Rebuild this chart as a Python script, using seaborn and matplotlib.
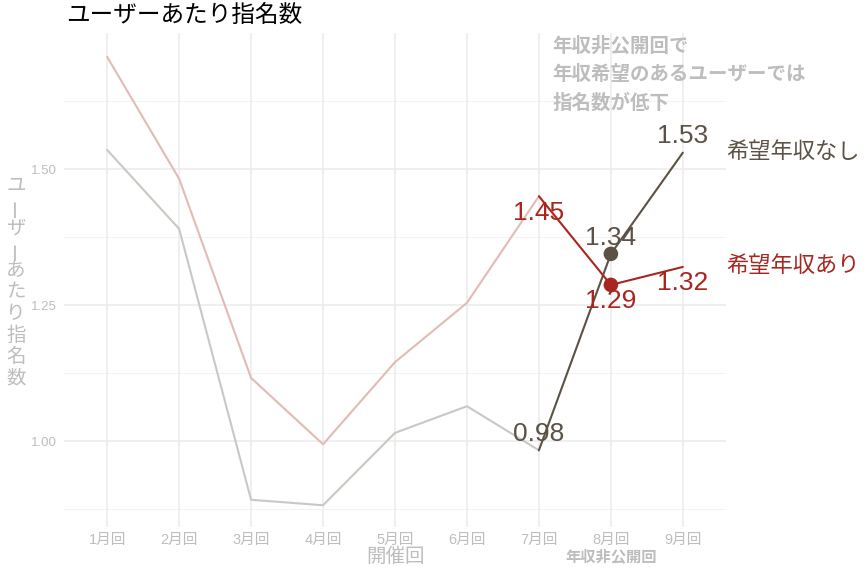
import pandas as pd
import seaborn as sns
import matplotlib.pyplot as plt
import matplotlib.transforms as mtransforms
from matplotlib.ticker import FixedLocator, FormatStrFormatter

# data
rounds = ["1月回", "2月回", "3月回", "4月回", "5月回", "6月回", "7月回", "8月回", "9月回"]
no_wish = [1.535, 1.39, 0.892, 0.882, 1.015, 1.064, 0.983, 1.344, 1.53]
wish = [1.706, 1.482, 1.116, 0.994, 1.145, 1.254, 1.45, 1.287, 1.32]
series_names = ["希望年収なし", "希望年収あり"]
y_major = [1.00, 1.25, 1.50]
y_minor = [0.875, 1.125, 1.375, 1.625]

dark = {"希望年収なし": "#5B5245", "希望年収あり": "#A8261F"}
light = {"希望年収なし": "#CBC7C3", "希望年収あり": "#E2BAB6"}

df = pd.DataFrame({
    "x": list(range(len(rounds))) * 2,
    "value": no_wish + wish,
    "group": [series_names[0]] * len(rounds) + [series_names[1]] * len(rounds),
})

sns.set_theme(style="white")
plt.rcParams["font.family"] = ["Liberation Sans", "Noto Sans CJK JP"]

fig = plt.figure(figsize=(8.64, 5.76), dpi=100)
ax = fig.add_axes([64 / 864, 1 - 527 / 576, (726 - 64) / 864, (527 - 33) / 576])

early = df[df["x"] <= 6]
late = df[df["x"] >= 6]

sns.lineplot(data=early, x="x", y="value", hue="group", palette=light,
             linewidth=1.5, legend=False, ax=ax)
sns.lineplot(data=late, x="x", y="value", hue="group", palette=dark,
             linewidth=1.5, legend=False, ax=ax)
sns.scatterplot(data=df[df["x"] == 7], x="x", y="value", hue="group",
                palette=dark, s=110, edgecolor="none", legend=False,
                ax=ax, zorder=5)

# value labels
for i in [6, 7, 8]:
    ax.text(i, no_wish[i] + 0.03, f"{no_wish[i]:.2f}", color=dark["希望年収なし"],
            fontsize=19, ha="center", va="center", zorder=6)
    ax.text(i, wish[i] - 0.03, f"{wish[i]:.2f}", color=dark["希望年収あり"],
            fontsize=19, ha="center", va="center", zorder=6)

# series labels
ax.text(8.6, no_wish[8], "希望年収なし", color=dark["希望年収なし"], fontsize=16,
        ha="left", va="center")
ax.text(8.6, wish[8], "希望年収あり", color=dark["希望年収あり"], fontsize=16,
        ha="left", va="center")

ax.text(6.19, 1.743, "年収非公開回で\n年収希望のあるユーザーでは\n指名数が低下",
        color="#BDBDBD", fontsize=14, fontweight="bold", ha="left", va="top",
        linespacing=1.6)

trans = mtransforms.blended_transform_factory(ax.transData, ax.transAxes)
ax.text(7, -0.06, "年収非公開回", transform=trans, color="#BDBDBD",
        fontsize=11, fontweight="bold", ha="center", va="center")

ax.set_xlim(-0.6, 8.6)
ax.set_ylim(0.842, 1.75)
ax.set_xticks(range(len(rounds)))
ax.set_xticklabels(rounds)
ax.yaxis.set_major_locator(FixedLocator(y_major))
ax.yaxis.set_minor_locator(FixedLocator(y_minor))
ax.yaxis.set_major_formatter(FormatStrFormatter("%.2f"))

ax.grid(True, which="major", color="#EBEBEB", linewidth=1.1)
ax.grid(True, which="minor", axis="y", color="#F2F2F2", linewidth=0.7)
ax.set_axisbelow(True)
for s in ax.spines.values():
    s.set_visible(False)

ax.tick_params(axis="both", which="major", length=3, color="#C8C8C8",
               labelcolor="#BDBDBD")
ax.tick_params(axis="x", labelsize=10.5, pad=1)
ax.tick_params(axis="y", labelsize=9.5, pad=2)
ax.tick_params(which="minor", length=0)

ax.set_xlabel("開催回", color="#BDBDBD", fontsize=14, labelpad=1)
ax.set_ylabel("")

# vertical y axis title, one character per line
ylab = "ユーザーあたり指名数"
top_px, step_px = 186, 21.4
for k, ch in enumerate(ylab):
    fig.text(16 / 864, 1 - (top_px + k * step_px) / 576, ch, color="#BDBDBD",
             fontsize=14, ha="center", va="center",
             rotation=90 if ch == "ー" else 0)

fig.text(66 / 864, 1 - 16 / 576, "ユーザーあたり指名数", fontsize=17,
         color="black", ha="left", va="center")

fig.savefig("out.png", dpi=100)
